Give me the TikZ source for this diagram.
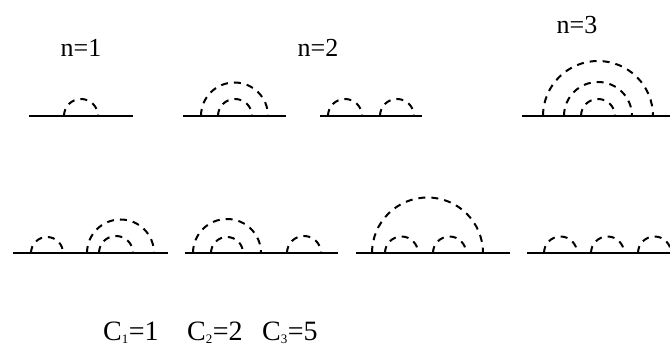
\documentclass[tikz,border=0pt]{standalone}
\usepackage{fontspec}
\setmainfont{Liberation Serif}
\newcommand{\csub}[1]{\raisebox{-3pt}{\fontsize{13}{13}\selectfont #1}\kern0.5pt}
\begin{document}
\begin{tikzpicture}[x=1pt,y=1pt,
  ground/.style={line width=1.8pt},
  halfarc/.style={line width=2pt, dash pattern=on 7pt off 6pt},
  ntext/.style={font=\fontsize{26}{30}\selectfont, inner sep=0pt},
  ctext/.style={font=\fontsize{28}{32}\selectfont, inner sep=0pt}]
\useasboundingbox (0,0) rectangle (670,347);

% top row
\node[ntext] (n1) at (81,299) {n=1};
\node[ntext] (n2) at (318,299) {n=2};
\node[ntext] (n3) at (577,322) {n=3};

\draw[ground] (29,231) -- (133,231);
\draw[ground] (183,231) -- (286,231);
\draw[ground] (320,231) -- (422,231);
\draw[ground] (522,231) -- (672,231);

\foreach \a/\r in {64/17, 201/33.5, 218/17, 328/17, 380/17, 543/55, 564/34, 581/17}
  \draw[halfarc] (\a,231) arc[start angle=180, end angle=0, radius=\r];

% bottom row
\draw[ground] (13,94) -- (168,94);
\draw[ground] (185,94) -- (338,94);
\draw[ground] (356,94) -- (510,94);
\draw[ground] (527,94) -- (672,94);

\foreach \a/\r in {31/16, 87/33.5, 99/17, 193/34, 211/16, 287/17,
                   372/55.5, 385/16.5, 433/16.5, 544/16.5, 591/16.5, 638/16.5}
  \draw[halfarc] (\a,94) arc[start angle=180, end angle=0, radius=\r];

% counts
\node[ctext, anchor=west] (c1) at (103,14) {C\csub{1}=1};
\node[ctext, anchor=west] (c2) at (187,14) {C\csub{2}=2};
\node[ctext, anchor=west] (c3) at (262,14) {C\csub{3}=5};
\end{tikzpicture}
\end{document}
